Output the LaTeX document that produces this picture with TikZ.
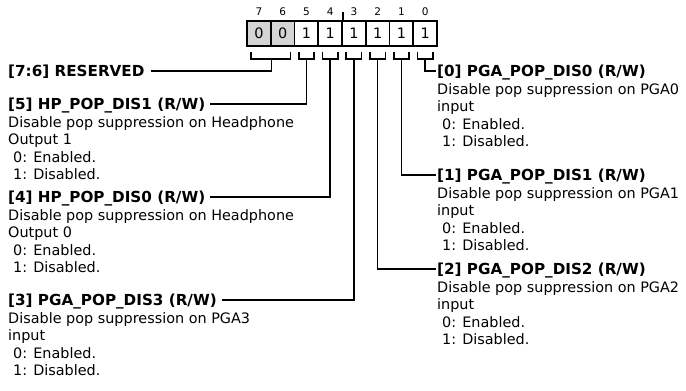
\documentclass[tikz,border=0pt]{standalone}
\usepackage{fontspec}
\setmainfont{DejaVu Sans}
\usetikzlibrary{positioning,calc}
\definecolor{resfill}{RGB}{212,212,212}

\begin{document}
\begin{tikzpicture}[x=1pt,y=-1pt,
            bitbox/.style={rectangle, draw, line width=1.6pt, minimum width=23.75pt, minimum height=25pt, inner sep=0pt, font=\fontsize{14.4}{17.5}\selectfont},
            bitnum/.style={inner sep=0pt, font=\fontsize{10.5}{12}\selectfont},
            field/.style={inner sep=0pt, anchor=west, text height=10.9pt, text depth=0pt, font=\fontsize{15.2}{17.5}\selectfont\bfseries},
            desc/.style={inner sep=0pt, anchor=north west, align=left, font=\fontsize{14.4}{17.5}\selectfont},
            wire/.style={line width=1.6pt}
        ]
            \useasboundingbox (0,0) rectangle (686,391);
            % register bits
            \foreach \i/\v/\f in {7/0/resfill,6/0/resfill,5/1/white,4/1/white,3/1/white,2/1/white,1/1/white,0/1/white} {
                \node[bitbox, fill=\f] (b\i) at ({247+(7.5-\i)*23.75},33.5) {\v};
                \node[bitnum] (n\i) at ({247+(7.5-\i)*23.75},12) {\i};
            }
            \draw[wire] (b4.north east) -- ++(0,8pt);
            % brackets under the bits
            \foreach \i in {5,4,3,2,1,0} {
                \draw[wire] ([xshift=5pt,yshift=-5pt]b\i.south west) |- ([yshift=-12pt]b\i.south) -| ([xshift=-5pt,yshift=-5pt]b\i.south east);
                \coordinate (s\i) at ([yshift=-12pt]b\i.south);
            }
            \draw[wire] ([xshift=5pt,yshift=-5pt]b7.south west) |- ([yshift=-12pt]b7.south east) -| ([xshift=-5pt,yshift=-5pt]b6.south east);
            \coordinate (s76) at ([yshift=-12pt]b7.south east);
            % left fields
            \node[field] (t76) at (8,71) {[7:6] RESERVED};
            \node[field] (t5) at (8,104) {[5] HP\_POP\_DIS1 (R/W)};
            \node[desc] (d5) at (8,114.75) {\strut Disable pop suppression on Headphone\\Output 1\\\hspace*{5pt}0: Enabled.\\\hspace*{5pt}1: Disabled.};
            \node[field] (t4) at (8,197) {[4] HP\_POP\_DIS0 (R/W)};
            \node[desc] (d4) at (8,207.75) {\strut Disable pop suppression on Headphone\\Output 0\\\hspace*{5pt}0: Enabled.\\\hspace*{5pt}1: Disabled.};
            \node[field] (t3) at (8,300) {[3] PGA\_POP\_DIS3 (R/W)};
            \node[desc] (d3) at (8,310.75) {\strut Disable pop suppression on PGA3\\input\\\hspace*{5pt}0: Enabled.\\\hspace*{5pt}1: Disabled.};
            % right fields
            \node[field] (t0) at (437,71) {[0] PGA\_POP\_DIS0 (R/W)};
            \node[desc] (d0) at (437,81.75) {\strut Disable pop suppression on PGA0\\input\\\hspace*{5pt}0: Enabled.\\\hspace*{5pt}1: Disabled.};
            \node[field] (t1) at (437,175) {[1] PGA\_POP\_DIS1 (R/W)};
            \node[desc] (d1) at (437,185.75) {\strut Disable pop suppression on PGA1\\input\\\hspace*{5pt}0: Enabled.\\\hspace*{5pt}1: Disabled.};
            \node[field] (t2) at (437,269) {[2] PGA\_POP\_DIS2 (R/W)};
            \node[desc] (d2) at (437,279.75) {\strut Disable pop suppression on PGA2\\input\\\hspace*{5pt}0: Enabled.\\\hspace*{5pt}1: Disabled.};
            % connectors
            \draw[wire] (s76) |- ([xshift=6pt]t76.east);
            \draw[wire] (s5) |- ([xshift=5pt]t5.east);
            \draw[wire] (s4) |- ([xshift=5pt]t4.east);
            \draw[wire] (s3) |- ([xshift=5pt]t3.east);
            \draw[wire] (s0) |- ([xshift=-1pt]t0.west);
            \draw[wire] (s1) |- ([xshift=-1pt]t1.west);
            \draw[wire] (s2) |- ([xshift=-1pt]t2.west);
        \end{tikzpicture}
\end{document}
